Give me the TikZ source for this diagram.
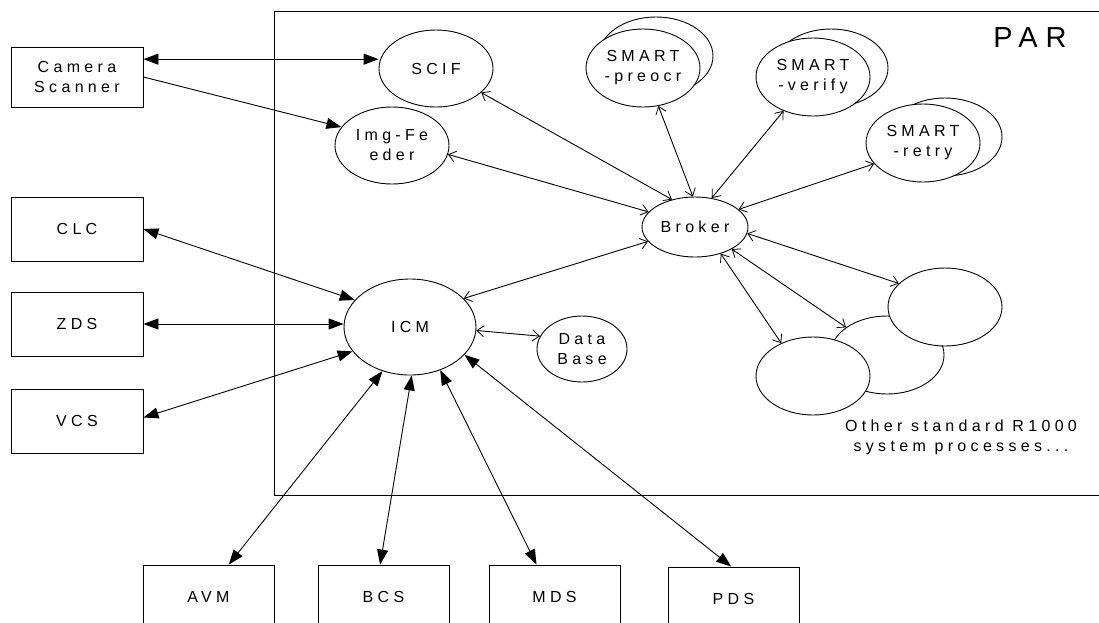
\documentclass[tikz,border=0pt]{standalone}
\usepackage{fontspec}
\setmainfont{Liberation Sans}
\newfontfamily\spfont[LetterSpace=27]{Liberation Sans}
\newcommand\labfont{\spfont\fontsize{16}{20}\selectfont}
\usetikzlibrary{shapes.geometric,arrows.meta}
\begin{document}
\begin{tikzpicture}[x=1pt,y=-1pt,line width=0.9pt,
  box/.style={draw,rectangle,minimum width=132pt,minimum height=64pt,inner sep=0pt,align=center,font=\labfont},
  lowbox/.style={box,minimum width=131pt},
  proc/.style={draw,ellipse,fill=white,minimum width=114pt,minimum height=78pt,inner sep=0pt,align=center,font=\labfont},
  bigboth/.style={{Triangle[length=15pt,width=11pt]}-{Triangle[length=15pt,width=11pt]}},
  bigend/.style={-{Triangle[length=15pt,width=11pt]}},
  barbs/.style={{Straight Barb[length=7pt,width=11pt,line width=0.8pt]}-{Straight Barb[length=7pt,width=11pt,line width=0.8pt]}}]
\useasboundingbox (0,0) rectangle (1099,622);
\clip (0,0) rectangle (1099,622);
% PAR frame
\draw (1099,11) -- (274,11) -- (274,495) -- (1099,495);
\node[font=\spfont\fontsize{29}{34}\selectfont,inner sep=0pt] (par) at (1030,38) {PAR};
% left boxes
\node[box,minimum height=60pt] (cam) at (77,77) {Camera\\Scanner};
\node[box] (clc) at (77,229) {CLC};
\node[box] (zds) at (77,324) {ZDS};
\node[box] (vcs) at (77,421) {VCS};
% bottom boxes
\node[lowbox] (avm) at (208.5,597) {AVM};
\node[lowbox] (bcs) at (383.5,597) {BCS};
\node[lowbox] (mds) at (554.5,597) {MDS};
\node[lowbox] (pds) at (733.5,599) {PDS};
% processes
\node[proc,minimum height=77pt] (scif) at (436,68.5) {SCIF};
\node[proc,minimum height=77pt] (imgf) at (392,145.5) {Img-Fe\\eder};
\node[proc] (preocrB) at (656,56) {};
\node[proc] (preocr) at (643,68) {SMART\\-preocr};
\node[proc] (verifyB) at (831,68) {};
\node[proc] (verify) at (813,77) {SMART\\-verify};
\node[proc] (retryB) at (945,137) {};
\node[proc] (retry) at (923,143) {SMART\\-retry};
\node[proc,minimum width=106pt,minimum height=60pt] (broker) at (695,227) {Broker};
\node[proc,minimum width=132pt,minimum height=96pt] (icm) at (410,327) {ICM};
\node[proc,minimum width=90pt,minimum height=66pt] (db) at (582,349) {Data\\Base};
\node[proc] (procB) at (887,355) {};
\node[proc] (procA) at (945,307) {};
\node[proc] (procC) at (813,376) {};
\node[align=center,font=\labfont,inner sep=0pt] (other) at (961,437) {Other standard R1000\\system processes...};
% connectors
\draw[bigboth] (cam.15) -- (cam.15 -| scif.west);
\draw[bigend] (cam.east) -- (imgf.160);
\draw[barbs] (scif.332) -- (broker.130);
\draw[barbs] (imgf.351) -- (broker.162);
\draw[barbs] (preocr.292) -- (broker.94);
\draw[barbs] (verify.229) -- (broker.60);
\draw[barbs] (retry.203) -- (broker.22);
\draw[barbs] (broker.197) -- (icm.28);
\draw[barbs] (icm.-3) -- (db.163);
\draw[barbs] (broker.353) -- (procA.153);
\draw[barbs] (broker.329) -- (procB.146);
\draw[barbs] (broker.314) -- (procC.134);
\draw[bigboth] (clc.east) -- (icm.154);
\draw[bigboth] (zds.east) -- (zds.east -| icm.west);
\draw[bigboth] (vcs.3) -- (icm.203);
\draw[bigboth] (icm.238) -- (avm.58);
\draw[bigboth] (icm.272) -- (bcs.96);
\draw[bigboth] (icm.305) -- (mds.119);
\draw[bigboth] (icm.333) -- (pds.94);
\end{tikzpicture}
\end{document}
